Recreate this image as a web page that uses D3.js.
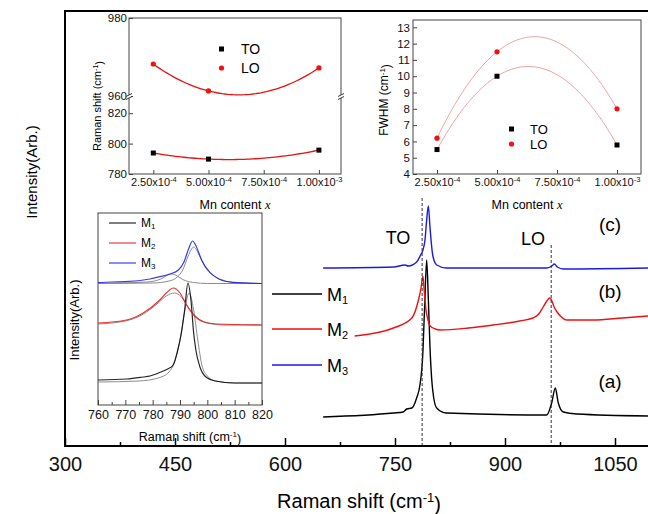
<!DOCTYPE html>
<html>
<head>
<meta charset="utf-8">
<script src="https://cdn.jsdelivr.net/npm/d3@7"></script>
<style>
  body { margin: 0; background: #fff; }
  svg { font-family: "Liberation Sans", Arial, sans-serif; }
</style>
</head>
<body>
<div id="chart"></div>
<script>
// main spectra, Raman shift (cm-1) vs intensity (arb.)
const waveA = [652, 748, 761, 766, 773, 779.5, 784, 787.7, 790.4, 793.2, 795.5, 797.7, 801.4, 806.8, 820, 957, 963.6, 968.6, 972.7, 979.5, 998, 1095];
const intA = [29, 33, 34, 37, 38, 48, 61, 89, 139, 186, 146, 99, 56, 38, 33, 31, 43, 58, 43, 34, 32, 30];
const waveB = [695, 748, 773, 782, 785.5, 788, 790, 792.3, 795, 798, 805, 811, 850, 884, 920, 938, 946, 952, 957, 961, 964, 967, 971, 977, 984, 1020, 1060, 1095];
const intB = [110, 118, 128, 146, 158, 170, 154, 136, 126, 120, 117, 116, 118, 121, 125, 128, 132, 139, 145, 148, 145, 139, 134, 129, 126, 126, 128, 130];
const waveC = [652, 748, 763.6, 768, 779.5, 785, 787.7, 790.9, 793.2, 795.5, 797.7, 801.4, 806.8, 820.5, 956.8, 964, 967.3, 971.4, 979.5, 1095];
const intC = [178, 179, 181, 180, 184, 191, 195, 206, 226, 240, 219, 191, 181, 178, 178, 180, 182, 179, 177, 178];

// TO / LO mode positions (cm-1) and top of the dashed guides
const modeLines = [787, 963];
const modeTop = [248, 201];

// inset: TO region 760-820 cm-1
const wave1 = [760, 770.5, 776.5, 779, 783, 785.5, 787.5, 789, 790.5, 791.7, 792.9, 794, 795, 795.8, 797.3, 799.5, 803, 810, 820];
const int1 = [25, 26, 28, 29, 33, 36, 40, 53, 72, 95, 122, 105, 72, 55, 38, 28, 24, 22, 22];
const fitWave1 = [760, 775, 782, 786, 788, 790, 791.5, 793.3, 795, 796.5, 798, 800, 803, 810, 820];
const fitInt1 = [23, 24, 27, 33, 43, 65, 90, 112, 95, 65, 40, 29, 24, 22, 22];
const wave2 = [760, 770.4, 776.5, 782.6, 785, 787.6, 790, 792.4, 795, 798.8, 803.4, 820];
const int2 = [82, 85, 92, 105, 112, 117, 112, 100, 90, 83, 81, 80];
const fitWave2 = [760, 770, 776, 782, 785, 788, 790.5, 793, 796, 800, 806, 820];
const fitInt2 = [81, 84, 90, 102, 109, 112, 108, 98, 88, 82, 80, 80];
const wave3 = [760, 765, 770, 779, 782.7, 786.3, 789.4, 791.5, 793, 794.6, 796, 797.9, 801, 804.6, 809.4, 820];
const int3 = [122.3, 123, 123.3, 126, 128.3, 131, 135, 143.3, 155, 164, 158.3, 145, 132.3, 125.7, 122.7, 121.5];
const fitWave3a = [760, 780, 786, 789, 791, 793, 795, 797, 799, 802, 806, 812, 820];
const fitInt3a = [121.5, 122, 124, 128, 135, 149, 158, 150, 139, 130, 124, 122, 121.5];
const fitWave3b = [760, 778, 783, 786, 787, 789, 791, 795, 800, 820];
const fitInt3b = [121.5, 123, 126, 130.5, 131, 129, 125.5, 122.5, 121.5, 121.5];

// insets: Mn content vs Raman shift and FWHM
const contentX = [2.5e-4, 5e-4, 1e-3];
const shiftTO = [793.8, 789.8, 795.7];
const shiftLO = [968.2, 961.3, 967.2];
const fwhmTO = [5.5, 10.0, 5.78];
const fwhmLO = [6.2, 11.5, 8.0];

const mainTicks = [300, 450, 600, 750, 900, 1050];
const mainMinor = [375, 525, 675, 825, 975];
const contentTicks = [2.5e-4, 5e-4, 7.5e-4, 1e-3];
const shiftTicksLow = [780, 800, 820];
const shiftTicksHigh = [960, 980];
const fwhmTicks = [4, 5, 6, 7, 8, 9, 10, 11, 12, 13];
const insetTicks = [760, 770, 780, 790, 800, 810, 820];
const insetMinor = [765, 775, 785, 795, 805, 815];

const labels = ["M1", "M2", "M3"];
const colors = ["#000000", "#ee1111", "#1a1ae6"];

let width = 648,
  height = 514;

let svg = d3
  .select("#chart")
  .append("svg")
  .attr("width", width)
  .attr("height", height);

// helper: "text (cm-1)" with superscript
let cmLabel = (sel, before) => {
  sel.append("tspan").text(`${before}(cm`);
  sel.append("tspan").attr("dy", "-0.45em").attr("font-size", "0.65em").text("-1");
  sel.append("tspan").attr("dy", "0.45em").text(")");
};

let subLabel = (sel, txt, size) => {
  sel.append("tspan").text(txt[0]);
  sel.append("tspan").attr("dy", "0.3em").attr("font-size", size).text(txt.slice(1));
};

let expTicks = (g, size) => {
  g.selectAll(".tick text").each(function (d) {
    const [m, e] = d.toExponential(2).split("e");
    const t = d3.select(this).text(null);
    t.append("tspan").text(`${m}x10`);
    t.append("tspan").attr("dy", "-0.5em").attr("font-size", size).text(e);
  });
};

let styleAxis = (g, color) => {
  g.select(".domain").remove();
  g.selectAll("line").attr("stroke", color);
  g.selectAll("text").attr("fill", "#111");
};

/////////////// main panel

let x = d3.scaleLinear().domain([300, 1110]).range([65, 659]);
let y = d3.scaleLinear().domain([0, 435]).range([446, 11]);

let line = d3
  .line()
  .x(d => x(d[0]))
  .y(d => y(d[1]))
  .curve(d3.curveMonotoneX);

let mainSeries = [
  d3.zip(waveA, intA),
  d3.zip(waveB, intB),
  d3.zip(waveC, intC)
];

svg
  .append("g")
  .selectAll("path")
  .data(mainSeries)
  .enter()
  .append("path")
  .attr("d", line)
  .attr("fill", "none")
  .attr("stroke", (d, i) => colors[i])
  .attr("stroke-width", 1.4);

svg
  .append("g")
  .selectAll("line")
  .data(modeLines)
  .enter()
  .append("line")
  .attr("x1", d => x(d))
  .attr("x2", d => x(d))
  .attr("y1", (d, i) => y(modeTop[i]))
  .attr("y2", y(0))
  .attr("stroke", "#333")
  .attr("stroke-width", 1)
  .attr("stroke-dasharray", "3,2");

svg
  .append("rect")
  .attr("x", 65)
  .attr("y", 11)
  .attr("width", 640)
  .attr("height", 435)
  .attr("fill", "none")
  .attr("stroke", "#000")
  .attr("stroke-width", 2);

let xAxisG = svg
  .append("g")
  .attr("transform", `translate(0, ${y(0)})`)
  .call(
    d3
      .axisBottom(x)
      .tickValues(mainTicks)
      .tickFormat(d3.format("d"))
      .tickSize(-8)
      .tickPadding(11)
  )
  .attr("font-size", 20)
  .attr("font-family", null);
styleAxis(xAxisG, "#000");
xAxisG.selectAll("line").attr("stroke-width", 1.5);

let xMinorG = svg
  .append("g")
  .attr("transform", `translate(0, ${y(0)})`)
  .call(d3.axisBottom(x).tickValues(mainMinor).tickSize(-4).tickFormat(""));
styleAxis(xMinorG, "#000");
xMinorG.selectAll("line").attr("stroke-width", 1.5);

svg
  .append("text")
  .attr("x", 359)
  .attr("y", 508)
  .attr("text-anchor", "middle")
  .attr("font-size", 20)
  .call(cmLabel, "Raman shift ");

svg
  .append("text")
  .attr("transform", "translate(37, 172) rotate(-90)")
  .attr("text-anchor", "middle")
  .attr("font-size", 15)
  .text("Intensity(Arb.)");

svg
  .append("text")
  .attr("x", 398)
  .attr("y", 244)
  .attr("text-anchor", "middle")
  .attr("font-size", 18)
  .text("TO");

svg
  .append("text")
  .attr("x", 533)
  .attr("y", 245)
  .attr("text-anchor", "middle")
  .attr("font-size", 18)
  .text("LO");

[["(c)", 231], ["(b)", 298], ["(a)", 388]].forEach(([t, ty]) => {
  svg
    .append("text")
    .attr("x", 610)
    .attr("y", ty)
    .attr("text-anchor", "middle")
    .attr("font-size", 19)
    .text(t);
});

// main legend
let legend = svg.append("g");
labels.forEach((lab, i) => {
  let ly = [294, 329, 365][i];
  legend
    .append("line")
    .attr("x1", 272)
    .attr("x2", 322)
    .attr("y1", ly)
    .attr("y2", ly)
    .attr("stroke", colors[i])
    .attr("stroke-width", 1.5);
  legend
    .append("text")
    .attr("x", 327)
    .attr("y", ly + 7)
    .attr("font-size", 18)
    .call(subLabel, lab, "11px");
});

/////////////// inset: Raman shift vs Mn content (broken axis)

let quadFit = (xs, ys) => v =>
  ys.reduce((s, yi, i) => {
    let t = yi;
    xs.forEach((xj, j) => {
      if (j !== i) t *= (v - xj) / (xs[i] - xj);
    });
    return s + t;
  }, 0);

let fitX = d3.range(0, 61).map(k => 2.5e-4 + (k / 60) * 7.5e-4);

let xs1 = d3.scaleLinear().domain([1.4e-4, 1.1e-3]).range([129, 341]);
let yHigh = d3.scaleLinear().domain([960, 980]).range([96, 18]);
let yLow = d3.scaleLinear().domain([780, 830]).range([174, 98]);

let inset1 = svg.append("g");

inset1
  .append("rect")
  .attr("x", 129)
  .attr("y", 18)
  .attr("width", 212)
  .attr("height", 156)
  .attr("fill", "#fff")
  .attr("stroke", "#444")
  .attr("stroke-width", 1);

[[shiftTO, yLow], [shiftLO, yHigh]].forEach(([vals, ys]) => {
  let f = quadFit(contentX, vals);
  inset1
    .append("path")
    .attr("d", d3.line().x(d => xs1(d)).y(d => ys(f(d)))(fitX))
    .attr("fill", "none")
    .attr("stroke", "#e81010")
    .attr("stroke-width", 1.3);
});

inset1
  .selectAll(".sqTO")
  .data(d3.zip(contentX, shiftTO))
  .enter()
  .append("rect")
  .attr("x", d => xs1(d[0]) - 2.5)
  .attr("y", d => yLow(d[1]) - 2.5)
  .attr("width", 5)
  .attr("height", 5)
  .attr("fill", "#000");

inset1
  .selectAll(".ptLO")
  .data(d3.zip(contentX, shiftLO))
  .enter()
  .append("circle")
  .attr("cx", d => xs1(d[0]))
  .attr("cy", d => yHigh(d[1]))
  .attr("r", 2.6)
  .attr("fill", "#f01010");

let ix1 = inset1
  .append("g")
  .attr("transform", "translate(0, 174)")
  .call(d3.axisBottom(xs1).tickValues(contentTicks).tickSize(-4).tickPadding(4))
  .attr("font-size", 11)
  .attr("font-family", null);
styleAxis(ix1, "#444");
expTicks(ix1, "7.5px");

[[yLow, shiftTicksLow], [yHigh, shiftTicksHigh]].forEach(([ys, tv]) => {
  let g = inset1
    .append("g")
    .attr("transform", "translate(129, 0)")
    .call(d3.axisLeft(ys).tickValues(tv).tickSize(-4).tickPadding(2))
    .attr("font-size", 11.5)
    .attr("font-family", null);
  styleAxis(g, "#444");
});

// break marks
[129, 341].forEach(bx => {
  inset1
    .append("rect")
    .attr("x", bx - 2)
    .attr("y", 95)
    .attr("width", 4)
    .attr("height", 3)
    .attr("fill", "#fff");
  [-1.5, 1.5].forEach(off => {
    inset1
      .append("line")
      .attr("x1", bx - 3)
      .attr("x2", bx + 3)
      .attr("y1", 96.5 + off + 1.5)
      .attr("y2", 96.5 + off - 1.5)
      .attr("stroke", "#333")
      .attr("stroke-width", 1);
  });
});

inset1
  .append("text")
  .attr("transform", "translate(101, 106) rotate(-90)")
  .attr("text-anchor", "middle")
  .attr("font-size", 11)
  .call(cmLabel, "Raman shift ");

let mnLabel = (sel, cx) => {
  let t = sel
    .append("text")
    .attr("x", cx)
    .attr("y", 209)
    .attr("text-anchor", "middle")
    .attr("font-size", 12.5);
  t.append("tspan").text("Mn content ");
  t.append("tspan")
    .attr("font-family", "'Liberation Serif', serif")
    .attr("font-style", "italic")
    .text("x");
};
mnLabel(inset1, 235);

[["TO", 49, "#000"], ["LO", 68, "#f01010"]].forEach(([t, ly, c], i) => {
  if (i === 0) {
    inset1.append("rect").attr("x", 219).attr("y", ly - 2.5).attr("width", 5).attr("height", 5).attr("fill", c);
  } else {
    inset1.append("circle").attr("cx", 221.5).attr("cy", ly).attr("r", 2.6).attr("fill", c);
  }
  inset1
    .append("text")
    .attr("x", 241)
    .attr("y", ly + 5)
    .attr("font-size", 14)
    .text(t);
});

/////////////// inset: FWHM vs Mn content

let xs2 = d3.scaleLinear().domain([1.5e-4, 1.1e-3]).range([413, 641]);
let ys2 = d3.scaleLinear().domain([4, 13.45]).range([174, 20]);

let inset2 = svg.append("g");

inset2
  .append("rect")
  .attr("x", 413)
  .attr("y", 20)
  .attr("width", 228)
  .attr("height", 154)
  .attr("fill", "#fff")
  .attr("stroke", "#444")
  .attr("stroke-width", 1);

[fwhmTO, fwhmLO].forEach(vals => {
  let f = quadFit(contentX, vals);
  inset2
    .append("path")
    .attr("d", d3.line().x(d => xs2(d)).y(d => ys2(f(d)))(fitX))
    .attr("fill", "none")
    .attr("stroke", "#f4a4a4")
    .attr("stroke-width", 1);
});

inset2
  .selectAll(".sqTO")
  .data(d3.zip(contentX, fwhmTO))
  .enter()
  .append("rect")
  .attr("x", d => xs2(d[0]) - 2.5)
  .attr("y", d => ys2(d[1]) - 2.5)
  .attr("width", 5)
  .attr("height", 5)
  .attr("fill", "#000");

inset2
  .selectAll(".ptLO")
  .data(d3.zip(contentX, fwhmLO))
  .enter()
  .append("circle")
  .attr("cx", d => xs2(d[0]))
  .attr("cy", d => ys2(d[1]))
  .attr("r", 2.6)
  .attr("fill", "#f01010");

let ix2 = inset2
  .append("g")
  .attr("transform", "translate(0, 174)")
  .call(d3.axisBottom(xs2).tickValues(contentTicks).tickSize(-4).tickPadding(4))
  .attr("font-size", 11)
  .attr("font-family", null);
styleAxis(ix2, "#444");
expTicks(ix2, "7.5px");

let iy2 = inset2
  .append("g")
  .attr("transform", "translate(413, 0)")
  .call(d3.axisLeft(ys2).tickValues(fwhmTicks).tickSize(-4).tickPadding(3))
  .attr("font-size", 11.5)
  .attr("font-family", null);
styleAxis(iy2, "#444");

inset2
  .append("text")
  .attr("transform", "translate(388, 100) rotate(-90)")
  .attr("text-anchor", "middle")
  .attr("font-size", 12)
  .call(cmLabel, "FWHM ");

mnLabel(inset2, 527);

[["TO", 129, "#000"], ["LO", 144, "#f01010"]].forEach(([t, ly, c], i) => {
  if (i === 0) {
    inset2.append("rect").attr("x", 509).attr("y", ly - 2.5).attr("width", 5).attr("height", 5).attr("fill", c);
  } else {
    inset2.append("circle").attr("cx", 511.5).attr("cy", ly).attr("r", 2.6).attr("fill", c);
  }
  inset2
    .append("text")
    .attr("x", 530)
    .attr("y", ly + 4.5)
    .attr("font-size", 13)
    .text(t);
});

/////////////// inset: TO band 760-820 cm-1

let xs3 = d3.scaleLinear().domain([760, 820]).range([98, 262]);
let ys3 = d3.scaleLinear().domain([0, 192]).range([405, 213]);

let line3 = d3
  .line()
  .x(d => xs3(d[0]))
  .y(d => ys3(d[1]))
  .curve(d3.curveMonotoneX);

let inset3 = svg.append("g");

inset3
  .append("rect")
  .attr("x", 98)
  .attr("y", 213)
  .attr("width", 164)
  .attr("height", 192)
  .attr("fill", "#fff")
  .attr("stroke", "#444")
  .attr("stroke-width", 1);

let fits = [
  d3.zip(fitWave1, fitInt1),
  d3.zip(fitWave2, fitInt2),
  d3.zip(fitWave3a, fitInt3a),
  d3.zip(fitWave3b, fitInt3b)
];

inset3
  .append("g")
  .selectAll("path")
  .data(fits)
  .enter()
  .append("path")
  .attr("d", line3)
  .attr("fill", "none")
  .attr("stroke", "#8c8c8c")
  .attr("stroke-width", 1);

let insetSeries = [
  d3.zip(wave1, int1),
  d3.zip(wave2, int2),
  d3.zip(wave3, int3)
];

inset3
  .append("g")
  .selectAll("path")
  .data(insetSeries)
  .enter()
  .append("path")
  .attr("d", line3)
  .attr("fill", "none")
  .attr("stroke", (d, i) => colors[i])
  .attr("stroke-width", 1.2)
  .attr("opacity", 0.85);

let ix3 = inset3
  .append("g")
  .attr("transform", "translate(0, 405)")
  .call(d3.axisBottom(xs3).tickValues(insetTicks).tickSize(-5).tickPadding(5))
  .attr("font-size", 12.5)
  .attr("font-family", null);
styleAxis(ix3, "#444");

let ix3m = inset3
  .append("g")
  .attr("transform", "translate(0, 405)")
  .call(d3.axisBottom(xs3).tickValues(insetMinor).tickSize(-3).tickFormat(""));
styleAxis(ix3m, "#444");

inset3
  .append("text")
  .attr("x", 190)
  .attr("y", 441)
  .attr("text-anchor", "middle")
  .attr("font-size", 12.5)
  .call(cmLabel, "Raman shift ");

inset3
  .append("text")
  .attr("transform", "translate(79, 320) rotate(-90)")
  .attr("text-anchor", "middle")
  .attr("font-size", 13)
  .text("Intensity(Arb.)");

labels.forEach((lab, i) => {
  let ly = [223, 243, 263][i];
  inset3
    .append("line")
    .attr("x1", 109)
    .attr("x2", 136)
    .attr("y1", ly)
    .attr("y2", ly)
    .attr("stroke", colors[i])
    .attr("stroke-width", 1);
  inset3
    .append("text")
    .attr("x", 141)
    .attr("y", ly + 4)
    .attr("font-size", 12)
    .call(subLabel, lab, "8px");
});
</script>
</body>
</html>
